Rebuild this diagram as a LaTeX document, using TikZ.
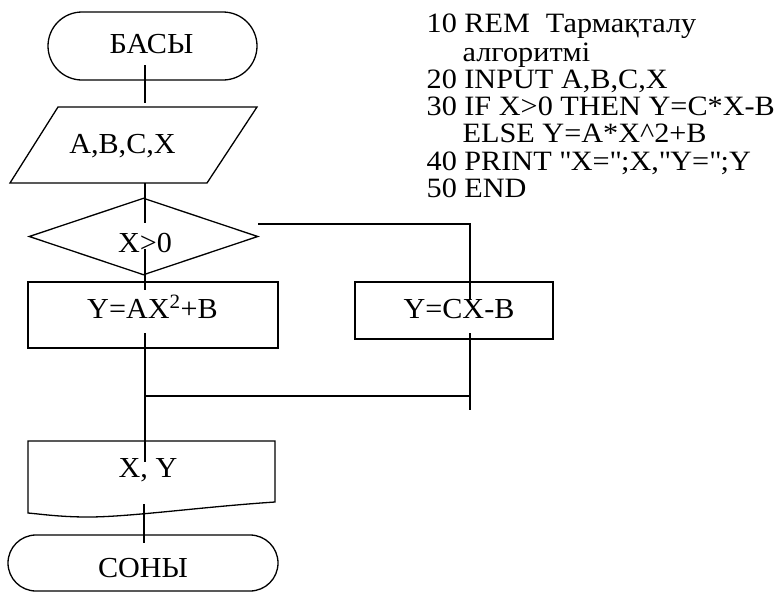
\documentclass[tikz,border=0pt]{standalone}
\usepackage{fontspec}
\setmainfont{Liberation Serif}[FakeStretch=1.04]
\newfontfamily\codefont{Liberation Serif}[FakeStretch=1.08]
\usetikzlibrary{shapes.geometric}
\begin{document}
\begin{tikzpicture}[x=1pt,y=-1pt,
  line width=1.3pt,
  txt/.style={font=\fontsize{29pt}{29pt}\selectfont, inner sep=0pt, anchor=base},
  code/.style={font=\codefont\fontsize{28pt}{28pt}\selectfont, inner sep=0pt, anchor=base west},
  term/.style={draw, rounded corners=#1, inner sep=0pt},
  box/.style={draw, inner sep=0pt}
]
\useasboundingbox (0,0) rectangle (781,592);

% ---- shapes ----
\node[term=34pt, minimum width=209pt, minimum height=68pt] (basy) at (152.5,46) {};
\draw (58,107) -- (257,107) -- (207,183) -- (10,183) -- cycle;
\coordinate (para) at (133.5,145);
\node[draw, diamond, minimum width=229pt, minimum height=77pt, inner sep=0pt] (dia) at (143.5,236.5) {};
\node[box, minimum width=250pt, minimum height=66pt] (r1) at (153,315) {};
\node[box, minimum width=198pt, minimum height=57pt] (r2) at (454,310.5) {};
\draw (28,441) -- (275,441) -- (275,502)
  .. controls (200,507) and (130,517) .. (88,517)
  .. controls (60,517) and (40,514) .. (28,513) -- cycle;
\coordinate (doc) at (151.5,477);
\node[term=28pt, minimum width=270pt, minimum height=56pt] (sony) at (143,563) {};

% ---- texts ----
\node[txt] (tbasy) at (151.5,53) {БАСЫ};
\node[txt] (tpara) at (122.5,153) {A,B,C,X};
\node[txt] (tdia) at (145,252) {X>0};
\node[txt] (tr1) at (152.5,318) {Y=AX\textsuperscript{2}+B};
\node[txt] (tr2) at (459,318) {Y=CX-B};
\node[txt] (tdoc) at (148,477) {X, Y};
\node[txt] (tsony) at (143,577) {СОНЫ};

\node[code] (l1) at (426,32) {10 REM\hspace{16pt}Тармақталу};
\node[code] (l2) at (462,61) {алгоритмі};
\node[code] (l3) at (426,88) {20 INPUT A,B,C,X};
\node[code] (l4) at (426,115) {30 IF X>0 THEN Y=C*X-B};
\node[code] (l5) at (462,142) {ELSE Y=A*X\textasciicircum2+B};
\node[code] (l6) at (426,170) {40 PRINT \textquotedbl X=\textquotedbl;X,\textquotedbl Y=\textquotedbl;Y};
\node[code] (l7) at (426,197) {50 END};

% ---- connector ends ----
\coordinate (a1) at (145,65);   \coordinate (a2) at (145,103);
\coordinate (b1) at (145,183);  \coordinate (b2) at (145,223);
\coordinate (c1) at (145,249);  \coordinate (c2) at (145,290);
\coordinate (d1) at (145,333);  \coordinate (d2) at (145,462);
\coordinate (j1) at (145,396);  \coordinate (j2) at (470,396);
\coordinate (e1) at (258,224);  \coordinate (e2) at (470,224);
\coordinate (e3) at (470,300);
\coordinate (f1) at (470,333);  \coordinate (f2) at (470,410);
\coordinate (g1) at (144,504);  \coordinate (g2) at (144,543);

% ---- connectors ----
\draw (a1) -- (a2);
\draw (b1) -- (b2);
\draw (c1) -- (c2);
\draw (d1) -- (d2);
\draw (j1) -- (j2);
\draw (e1) -- (e2) -- (e3);
\draw (f1) -- (f2);
\draw (g1) -- (g2);
\end{tikzpicture}
\end{document}
